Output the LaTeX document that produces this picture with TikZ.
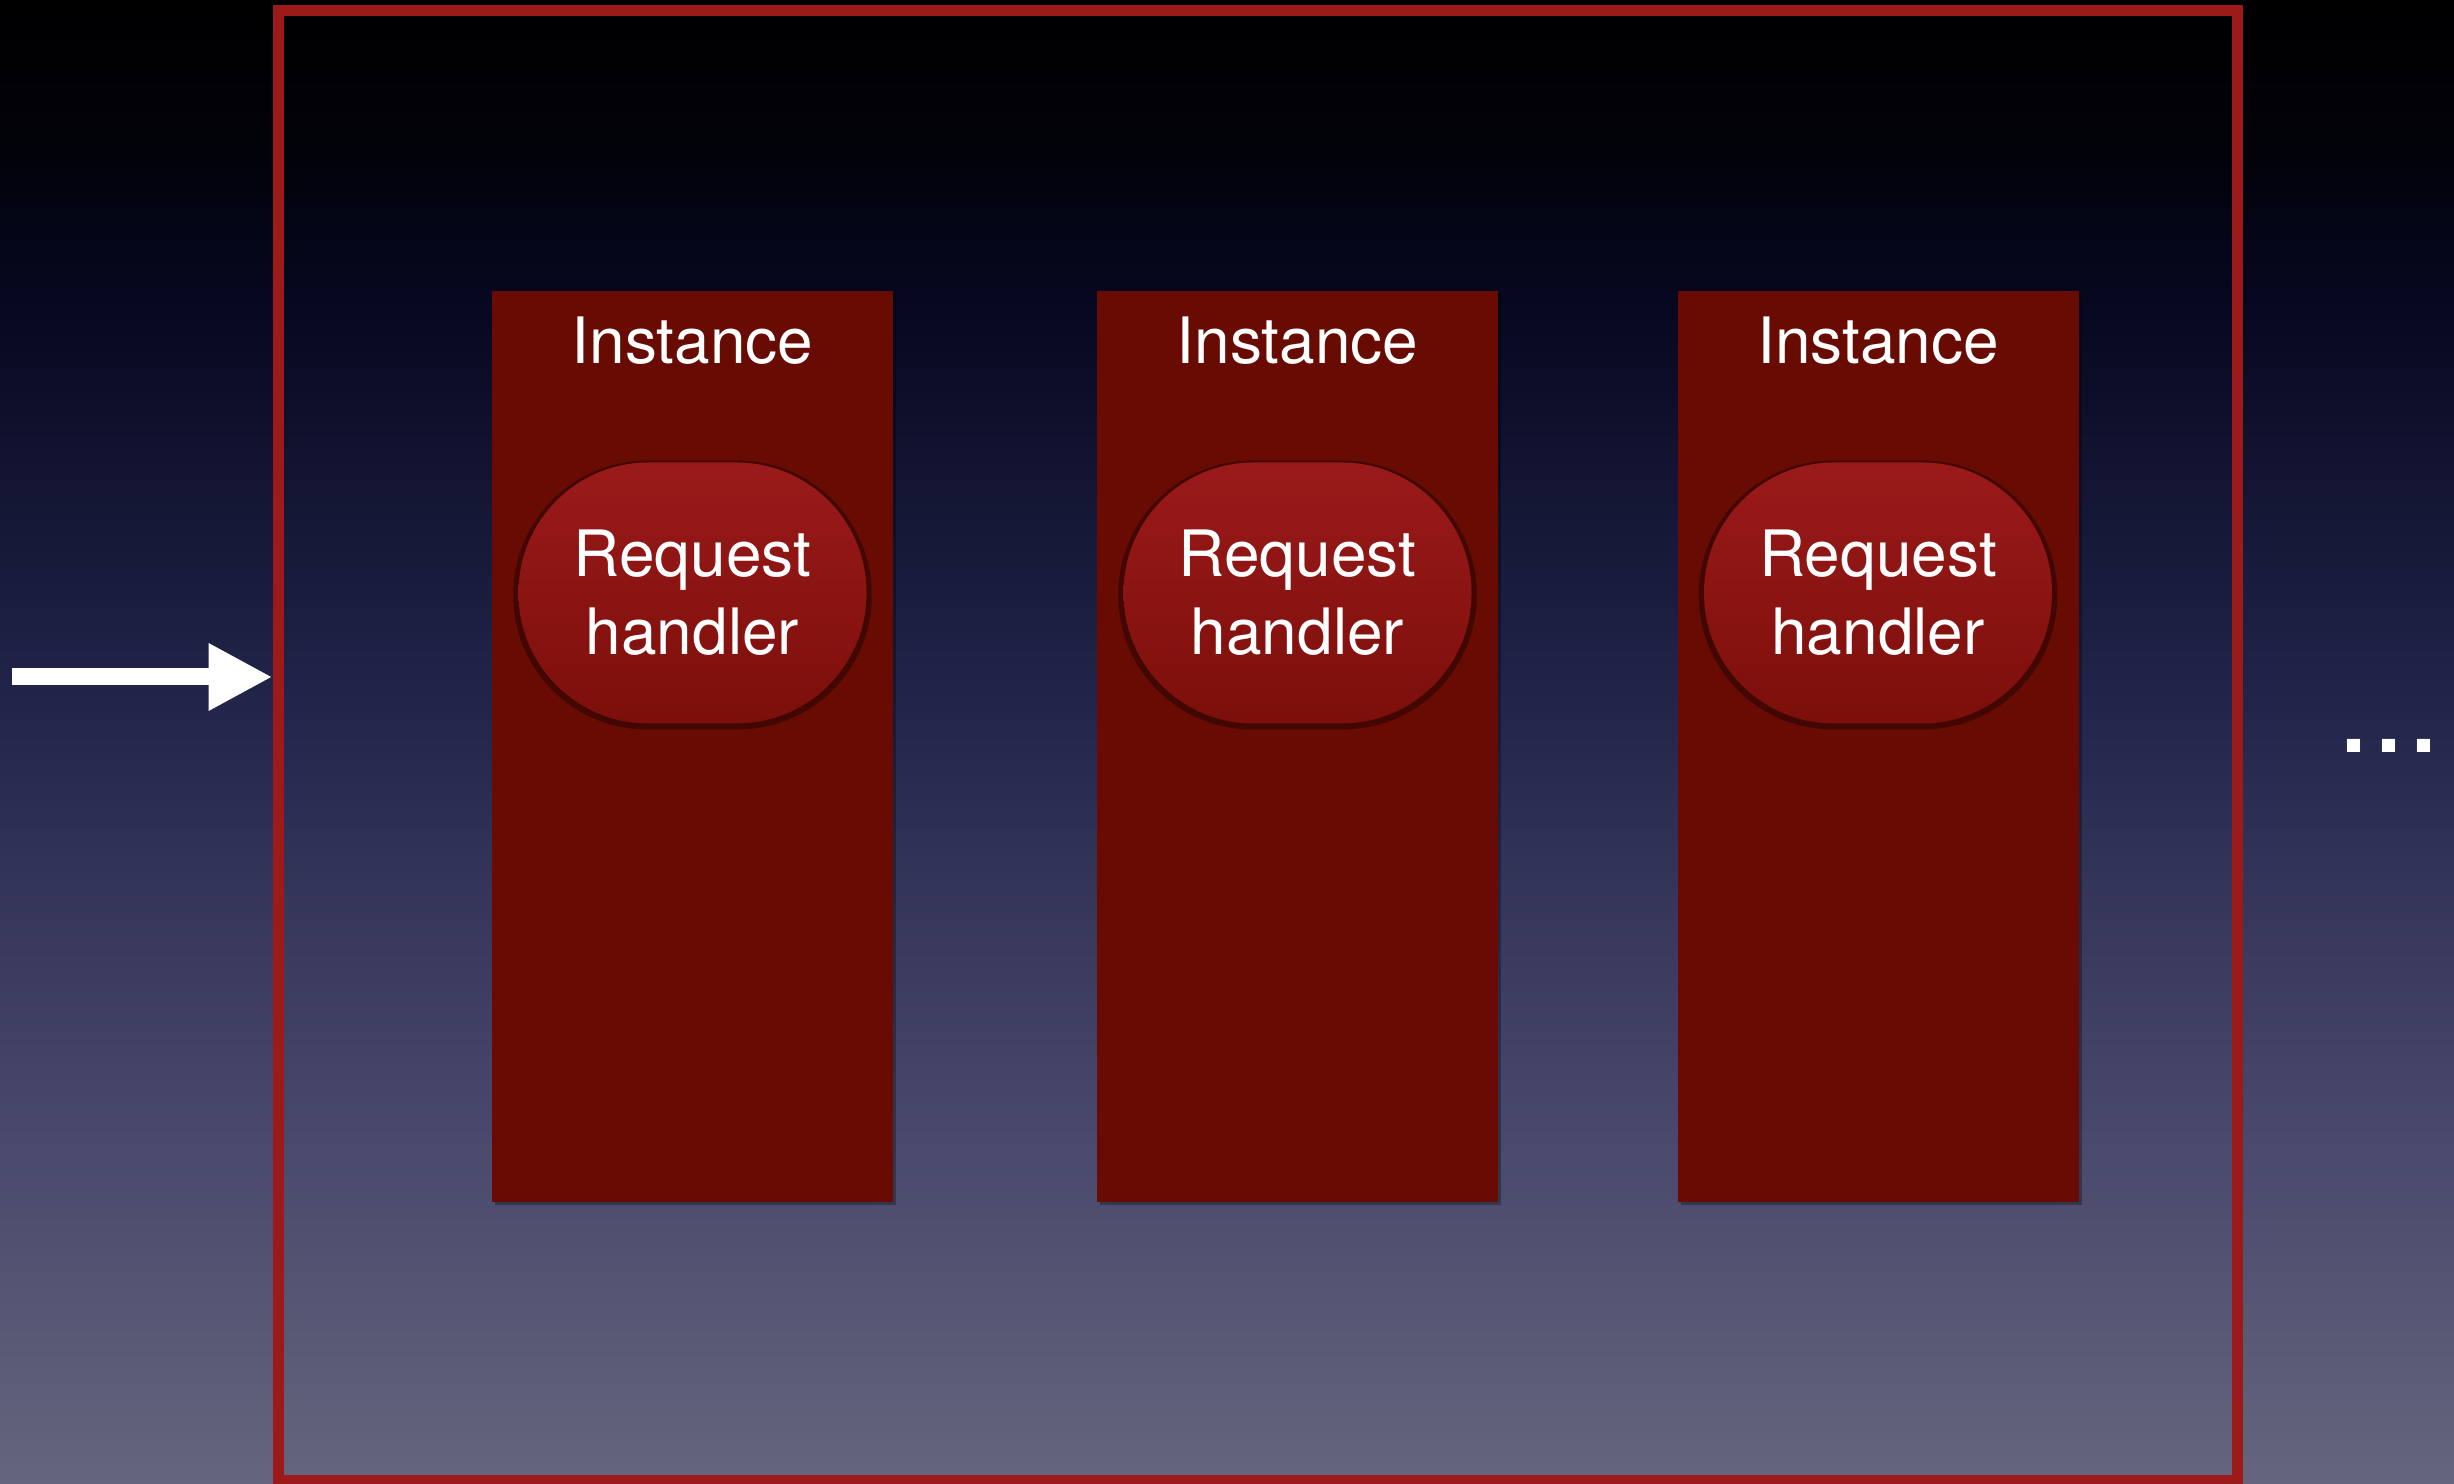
\documentclass[tikz,border=0pt]{standalone}
\usepackage{fontspec}
\setmainfont{TeX Gyre Heros}
\usetikzlibrary{positioning,arrows.meta,shadows}

\definecolor{framered}{RGB}{156,26,26}
\definecolor{instred}{RGB}{103,11,3}
\definecolor{handtop}{RGB}{154,26,26}
\definecolor{handbot}{RGB}{124,15,11}

% night sky behind everything
\pgfdeclareverticalshading{stage}{100bp}{%
  rgb(0bp)=(.396,.396,.494); rgb(25bp)=(.396,.396,.494);
  rgb(31.2bp)=(.333,.337,.451); rgb(37.9bp)=(.271,.275,.416);
  rgb(44.7bp)=(.208,.212,.353); rgb(51.4bp)=(.133,.141,.290);
  rgb(58.2bp)=(.078,.086,.204); rgb(64.9bp)=(.024,.031,.125);
  rgb(69.9bp)=(.008,.008,.039); rgb(75bp)=(0,0,0); rgb(100bp)=(0,0,0)}

\newcommand{\labelfont}{\fontsize{18.2pt}{22.2pt}\selectfont}

\begin{document}
\begin{tikzpicture}[
    frame/.style={draw=framered, line width=0.11cm, minimum width=19.59cm,
      minimum height=14.70cm, inner sep=0},
    instance/.style={fill=instred, minimum width=4.01cm, minimum height=9.11cm,
      inner sep=0, drop shadow={fill=black, opacity=0.3, shadow xshift=0.03cm, shadow yshift=-0.03cm}},
    handler/.style={rectangle, rounded corners=1.3cm, minimum width=3.48cm,
      minimum height=2.61cm, top color=handtop, bottom color=handbot,
      text=white, align=center, font=\labelfont, inner sep=0,
      drop shadow={fill=black, opacity=0.35, shadow xshift=0cm, shadow yshift=-0.02cm, shadow scale=1.03}},
    caption/.style={text=white, font=\labelfont, inner sep=0, anchor=base},
    feed/.style={draw=white, line width=0.17cm, -{Triangle[length=0.64cm, width=0.63cm]}},
  ]
  \useasboundingbox (0,0) rectangle (24.54,14.84);
  \shade[shading=stage] (0,0) rectangle (24.54,14.84);

  \node [frame] (frame) at (12.575,7.38) {};

  \node [instance] (inst1) at (6.925,7.375) {};
  \node [caption] (cap1) at ([yshift=-0.73cm]inst1.north) {Instance};
  \node [handler] (req1) at ([yshift=1.535cm]inst1.center) {Request\\handler};

  \node [instance] (inst2) at (12.975,7.375) {};
  \node [caption] (cap2) at ([yshift=-0.73cm]inst2.north) {Instance};
  \node [handler] (req2) at ([yshift=1.535cm]inst2.center) {Request\\handler};

  \node [instance] (inst3) at (18.78,7.375) {};
  \node [caption] (cap3) at ([yshift=-0.73cm]inst3.north) {Instance};
  \node [handler] (req3) at ([yshift=1.535cm]inst3.center) {Request\\handler};

  \coordinate (src) at (0.12,8.07);
  \draw [feed] (src) -- (src -| frame.west);

  \node [text=white, font=\fontsize{35.8pt}{36pt}\selectfont, inner sep=0, anchor=base]
    (more) at (23.89,7.31) {...};
\end{tikzpicture}
\end{document}
